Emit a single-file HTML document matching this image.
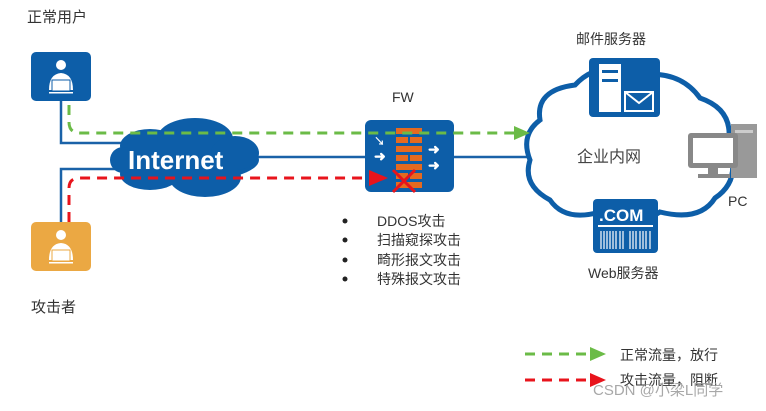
<!DOCTYPE html>
<html><head><meta charset="utf-8"><style>
body{margin:0;background:#fff;width:766px;height:406px;overflow:hidden}
text{font-family:"Liberation Sans","Noto Sans CJK SC",sans-serif}
</style></head><body>
<svg width="766" height="406" viewBox="0 0 766 406" xmlns="http://www.w3.org/2000/svg">
<defs>
<g id="user">
<circle cx="30" cy="11" r="5" fill="#fff"/>
<path d="M18 36 Q18 20 30 19 Q42 20 42 36 Z" fill="#fff"/>
<rect x="21" y="26" width="18" height="11" fill="#fff" stroke="currentColor" stroke-width="1"/>
<rect x="18" y="38" width="24" height="1.5" fill="#fff"/>
</g>
</defs>
<text x="27" y="22" font-size="15" fill="#333">正常用户</text>
<text x="31" y="312" font-size="15" fill="#333">攻击者</text>
<text x="392" y="102" font-size="14" fill="#333">FW</text>
<text x="576" y="44" font-size="14" fill="#333">邮件服务器</text>
<text x="588" y="278" font-size="14" fill="#333">Web服务器</text>
<text x="728" y="206" font-size="14" fill="#333">PC</text>
<g stroke="#1a62a8" stroke-width="2.5" fill="none">
<path d="M61 100 V143 H130"/>
<path d="M61 222 V169 H130"/>
<path d="M255 157 H366"/>
<path d="M453 157 H530"/>
</g>
<g fill="#0d5ea8">
<ellipse cx="185" cy="160" rx="74" ry="22"/>
<ellipse cx="150" cy="146" rx="30" ry="17"/>
<ellipse cx="195" cy="139" rx="38" ry="21"/>
<ellipse cx="235" cy="153" rx="24" ry="17"/>
<ellipse cx="150" cy="174" rx="30" ry="16"/>
<ellipse cx="205" cy="177" rx="36" ry="20"/>
<ellipse cx="123" cy="160" rx="13" ry="13"/>
</g>
<text x="128" y="169" font-size="26" font-weight="bold" fill="#fff">Internet</text>
<rect x="31" y="52" width="60" height="49" rx="5" fill="#0d5ea8"/>
<g transform="translate(31,54)" color="#0d5ea8"><use href="#user"/></g>
<rect x="31" y="222" width="60" height="49" rx="5" fill="#eba843"/>
<g transform="translate(31,224)" color="#eba843"><use href="#user"/></g>
<rect x="365" y="120" width="89" height="72" rx="6" fill="#0d5ea8"/>
<g fill="#e56a20">
<rect x="396" y="128" width="26" height="6"/><rect x="396" y="137" width="12" height="6"/><rect x="410" y="137" width="12" height="6"/>
<rect x="396" y="146" width="26" height="6"/><rect x="396" y="155" width="12" height="6"/><rect x="410" y="155" width="12" height="6"/>
<rect x="396" y="164" width="26" height="6"/><rect x="396" y="173" width="12" height="6"/><rect x="410" y="173" width="12" height="6"/>
<rect x="396" y="182" width="26" height="6"/>
</g>
<g fill="#fff" font-size="14" font-weight="bold"><text x="374" y="161">➜</text><text x="428" y="154">➜</text><text x="428" y="170">➜</text><text x="374" y="145" font-size="11">↘</text></g>
<path d="M393 170 L415 192 M415 170 L393 192" stroke="#e8141c" stroke-width="3"/>
<path d="M540 120 Q535 90 575 85 Q600 58 640 75 Q680 70 700 98 Q735 110 728 145 Q742 180 715 198 Q700 222 660 212 Q630 232 600 212 Q565 222 550 200 Q522 185 530 160 Q520 135 540 120 Z" fill="#fff" stroke="#0d5ea8" stroke-width="5"/>
<text x="577" y="162" font-size="16" fill="#444">企业内网</text>
<rect x="589" y="58" width="71" height="59" rx="4" fill="#0d5ea8"/>
<rect x="599" y="64" width="22" height="48" fill="#fff"/>
<rect x="602" y="70" width="16" height="3" fill="#0d5ea8"/><rect x="602" y="79" width="16" height="3" fill="#0d5ea8"/>
<rect x="625" y="92" width="28" height="19" fill="none" stroke="#fff" stroke-width="2"/>
<path d="M625 92 L639 103 L653 92" fill="none" stroke="#fff" stroke-width="2"/>
<rect x="593" y="199" width="65" height="54" rx="4" fill="#0d5ea8"/>
<text x="599" y="221" font-size="17" font-weight="bold" fill="#fff">.COM</text>
<rect x="598" y="225" width="55" height="2" fill="#fff"/>
<g stroke="#fff" stroke-width="1.2"><path d="M601 231V249M604 231V249M607 231V249M610 231V249M613 231V249M616 231V249M620 231V249M623 231V249M630 231V249M633 231V249M636 231V249M640 231V249M643 231V249M646 231V249M650 231V249"/></g>
<!-- PC -->
<rect x="731" y="124" width="26" height="54" fill="#999"/>
<rect x="735" y="130" width="18" height="3" fill="#ccc"/>
<rect x="688" y="133" width="50" height="35" rx="3" fill="#888"/>
<rect x="693" y="138" width="40" height="25" fill="#fff"/>
<rect x="708" y="168" width="10" height="6" fill="#888"/>
<rect x="698" y="174" width="32" height="4" fill="#888"/>
<path d="M69 105 V122 Q69 133 80 133 H516" fill="none" stroke="#6bbb47" stroke-width="3" stroke-dasharray="10 7"/>
<polygon points="514,126 530,133 514,140" fill="#6bbb47"/>
<path d="M69 222 V188 Q69 178 80 178 H372" fill="none" stroke="#e8141c" stroke-width="3" stroke-dasharray="10 7"/>
<polygon points="369,170 388,178 369,186" fill="#e8141c"/>
<g fill="#222"><circle cx="345" cy="221" r="2.5"/><circle cx="345" cy="240" r="2.5"/><circle cx="345" cy="260" r="2.5"/><circle cx="345" cy="279" r="2.5"/></g>
<g font-size="14" fill="#333"><text x="377" y="226">DDOS攻击</text><text x="377" y="245">扫描窥探攻击</text><text x="377" y="265">畸形报文攻击</text><text x="377" y="284">特殊报文攻击</text></g>
<path d="M525 354 H590" stroke="#6bbb47" stroke-width="3" stroke-dasharray="10 7"/>
<polygon points="590,347 606,354 590,361" fill="#6bbb47"/>
<path d="M525 380 H590" stroke="#e8141c" stroke-width="3" stroke-dasharray="10 7"/>
<polygon points="590,373 606,380 590,387" fill="#e8141c"/>
<text x="620" y="360" font-size="14" fill="#333">正常流量，放行</text>
<text x="620" y="385" font-size="14" fill="#333">攻击流量，阻断</text>
<text x="593" y="395" font-size="15" fill="#999" opacity="0.85">CSDN @小梁L同学</text>
</svg>
</body></html>
